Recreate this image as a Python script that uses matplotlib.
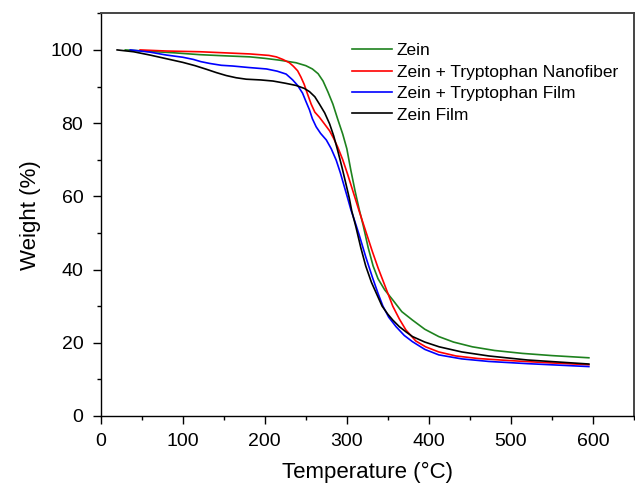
import numpy as np
import matplotlib.pyplot as plt
from matplotlib.ticker import MultipleLocator

plt.rcParams['font.family'] = ['Liberation Sans', 'DejaVu Sans']

# values (temperature in C, weight in %)
t_zein = [30, 60, 90, 121, 150, 182, 200, 218, 238, 250, 258, 265, 271, 277, 283, 289, 295,
          300, 305, 310, 315, 320, 326, 332, 338, 346, 356, 367, 380, 395, 412, 430, 453,
          480, 514, 550, 595]
w_zein = [100, 99.6, 99.2, 98.7, 98.4, 98.1, 97.7, 97.2, 96.5, 95.7, 94.8, 93.5, 91.5, 88.5,
          85.2, 81, 77, 73, 67, 61.5, 56.5, 52, 46, 41, 37.5, 34.5, 31.7, 28.5, 26.2, 23.7,
          21.7, 20.2, 18.9, 17.9, 17.1, 16.5, 15.9]

t_nano = [48, 80, 121, 182, 205, 214, 222, 230, 235, 240, 244, 248, 252, 256.5, 261, 266.6,
          272, 279, 284, 289, 295, 301, 308, 315, 323, 331, 338, 344, 350, 356, 364, 372,
          384, 396, 412, 433, 460, 494, 540, 595]
w_nano = [100, 99.7, 99.5, 98.9, 98.5, 98.1, 97.4, 96.5, 95.5, 94.3, 92.6, 90.6, 88, 85.2,
          83, 81.6, 80, 77.9, 75.8, 73.4, 70, 66, 61, 56, 50.5, 45, 40.5, 37, 33.5, 30, 26.5,
          23.5, 20.5, 18.9, 17.5, 16.4, 15.7, 15.2, 14.6, 14.0]

t_film = [36, 60, 80, 100, 113, 122, 133, 147, 161, 180, 202, 215, 226, 234, 240, 246, 250,
          254.5, 258, 262.6, 268, 275, 281, 287, 292, 297, 301, 305, 310, 315, 323, 331, 338,
          344, 351, 360, 370, 380, 395, 412, 440, 473, 520, 595]
w_film = [100, 99.4, 98.6, 98.0, 97.4, 96.8, 96.3, 95.8, 95.6, 95.2, 94.8, 94.2, 93.4, 91.8,
          90.3, 88.2, 86, 83.6, 81.2, 79, 77.2, 75.4, 73, 69.9, 66.5, 62.6, 59.5, 56.3, 53,
          49.5, 43.5, 38, 33.5, 30, 27, 24.4, 22, 20.3, 18.2, 16.7, 15.6, 14.9, 14.3, 13.5]

t_zfilm = [20, 40, 60, 80, 100, 115, 129, 141, 153, 165, 177.5, 195, 210, 225, 238, 248, 254.5,
           261, 266.6, 273, 279, 284, 289, 294, 299, 303, 306, 311, 317, 323, 330, 336, 343,
           350, 356, 364, 372, 380, 395, 412.5, 440, 473, 520, 595]
w_zfilm = [100, 99.5, 98.6, 97.6, 96.6, 95.7, 94.7, 93.8, 93.0, 92.4, 92.0, 91.8, 91.5, 90.9,
           90.3, 89.5, 88.6, 87.2, 85.2, 82.8, 79.8, 76.5, 72.4, 68, 63.3, 59.5, 56, 51.7, 46,
           41, 36.5, 33.5, 30, 27.8, 26.2, 24.4, 23, 21.7, 20.2, 18.9, 17.5, 16.4, 15.3, 14.2]

fig = plt.figure(figsize=(6.35, 4.84), dpi=100)
ax = fig.add_axes([0.1586, 0.1405, 0.8398, 0.832])

ax.plot(t_zein, w_zein, color='#1e821e', lw=1.2, label='Zein')
ax.plot(t_nano, w_nano, color='#ff0000', lw=1.2, label='Zein + Tryptophan Nanofiber')
ax.plot(t_film, w_film, color='#0000ff', lw=1.2, label='Zein + Tryptophan Film')
ax.plot(t_zfilm, w_zfilm, color='black', lw=1.2, label='Zein Film')

ax.set_xlim(0, 650)
ax.set_ylim(0, 110)
ax.xaxis.set_major_locator(MultipleLocator(100))
ax.xaxis.set_minor_locator(MultipleLocator(50))
ax.yaxis.set_major_locator(MultipleLocator(20))
ax.yaxis.set_minor_locator(MultipleLocator(10))
ax.tick_params(which='major', direction='out', length=5.5, width=1, labelsize=14, pad=7)
ax.tick_params(which='minor', direction='out', length=3.2, width=1)
ax.tick_params(top=False, right=False, which='both')
for s in ax.spines.values():
    s.set_linewidth(1.0)
for s in ['top', 'right']:
    ax.spines[s].set_color('#444444')
    ax.spines[s].set_linewidth(1.4)

ax.set_xlabel('Temperature (°C)', fontsize=16, labelpad=8)
ax.set_ylabel('Weight (%)', fontsize=16, labelpad=7)

ax.legend(loc='upper left', bbox_to_anchor=(0.4575, 0.943), frameon=False, fontsize=12.5,
          handlelength=2.3, handletextpad=0.3, labelspacing=0.36, borderaxespad=0)

fig.savefig('out.png', dpi=100)
